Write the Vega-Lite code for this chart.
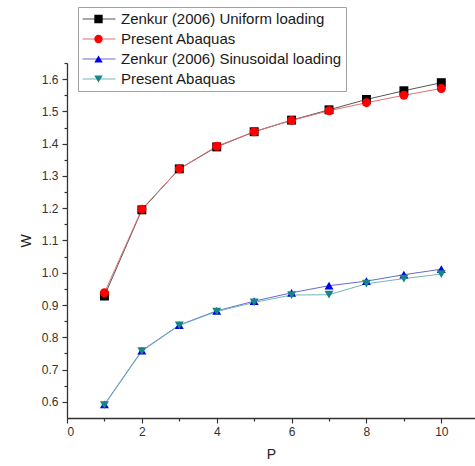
{
  "$schema": "https://vega.github.io/schema/vega-lite/v6.json",
  "autosize": "none",
  "width": 408,
  "height": 355,
  "padding": {"left": 67, "top": 63, "right": 0, "bottom": 48},
  "background": "white",
  "config": {
    "view": {"stroke": null},
    "font": "Liberation Sans",
    "axis": {
      "domainColor": "#333333",
      "domainWidth": 1.3,
      "tickColor": "#333333",
      "tickWidth": 1.2,
      "labelColor": "#333333",
      "labelFont": "Liberation Sans",
      "labelFontSize": 12,
      "titleFont": "Liberation Sans",
      "titleFontSize": 14,
      "titleFontWeight": "normal",
      "titleColor": "#222222",
      "grid": false
    }
  },
  "data": {
    "values": [
      {"P": 1, "W": 0.928, "series": "Zenkur (2006) Uniform loading"},
      {"P": 2, "W": 1.195, "series": "Zenkur (2006) Uniform loading"},
      {"P": 3, "W": 1.322, "series": "Zenkur (2006) Uniform loading"},
      {"P": 4, "W": 1.390, "series": "Zenkur (2006) Uniform loading"},
      {"P": 5, "W": 1.437, "series": "Zenkur (2006) Uniform loading"},
      {"P": 6, "W": 1.473, "series": "Zenkur (2006) Uniform loading"},
      {"P": 7, "W": 1.505, "series": "Zenkur (2006) Uniform loading"},
      {"P": 8, "W": 1.537, "series": "Zenkur (2006) Uniform loading"},
      {"P": 9, "W": 1.564, "series": "Zenkur (2006) Uniform loading"},
      {"P": 10, "W": 1.589, "series": "Zenkur (2006) Uniform loading"},
      {"P": 1, "W": 0.938, "series": "Present Abaquas"},
      {"P": 2, "W": 1.197, "series": "Present Abaquas"},
      {"P": 3, "W": 1.322, "series": "Present Abaquas"},
      {"P": 4, "W": 1.392, "series": "Present Abaquas"},
      {"P": 5, "W": 1.437, "series": "Present Abaquas"},
      {"P": 6, "W": 1.472, "series": "Present Abaquas"},
      {"P": 7, "W": 1.502, "series": "Present Abaquas"},
      {"P": 8, "W": 1.527, "series": "Present Abaquas"},
      {"P": 9, "W": 1.550, "series": "Present Abaquas"},
      {"P": 10, "W": 1.571, "series": "Present Abaquas"},
      {"P": 1, "W": 0.592, "series": "Zenkur (2006) Sinusoidal loading"},
      {"P": 2, "W": 0.759, "series": "Zenkur (2006) Sinusoidal loading"},
      {"P": 3, "W": 0.838, "series": "Zenkur (2006) Sinusoidal loading"},
      {"P": 4, "W": 0.882, "series": "Zenkur (2006) Sinusoidal loading"},
      {"P": 5, "W": 0.912, "series": "Zenkur (2006) Sinusoidal loading"},
      {"P": 6, "W": 0.938, "series": "Zenkur (2006) Sinusoidal loading"},
      {"P": 7, "W": 0.960, "series": "Zenkur (2006) Sinusoidal loading"},
      {"P": 8, "W": 0.974, "series": "Zenkur (2006) Sinusoidal loading"},
      {"P": 9, "W": 0.994, "series": "Zenkur (2006) Sinusoidal loading"},
      {"P": 10, "W": 1.011, "series": "Zenkur (2006) Sinusoidal loading"},
      {"P": 1, "W": 0.590, "series": "Present Abaquas (sinusoidal)"},
      {"P": 2, "W": 0.757, "series": "Present Abaquas (sinusoidal)"},
      {"P": 3, "W": 0.837, "series": "Present Abaquas (sinusoidal)"},
      {"P": 4, "W": 0.880, "series": "Present Abaquas (sinusoidal)"},
      {"P": 5, "W": 0.908, "series": "Present Abaquas (sinusoidal)"},
      {"P": 6, "W": 0.931, "series": "Present Abaquas (sinusoidal)"},
      {"P": 7, "W": 0.932, "series": "Present Abaquas (sinusoidal)"},
      {"P": 8, "W": 0.966, "series": "Present Abaquas (sinusoidal)"},
      {"P": 9, "W": 0.982, "series": "Present Abaquas (sinusoidal)"},
      {"P": 10, "W": 0.996, "series": "Present Abaquas (sinusoidal)"}
    ]
  },
  "resolve": {"scale": {"x": "shared", "y": "shared"}, "axis": {"x": "independent", "y": "independent"}},
  "layer": [
    {
      "mark": {"type": "line", "strokeWidth": 1},
      "encoding": {
        "x": {
          "field": "P", "type": "quantitative",
          "scale": {"domain": [0, 10.9], "nice": false, "zero": false},
          "axis": {"orient": "bottom", "values": [1, 3, 5, 7, 9], "tickSize": 3, "labels": false, "domain": false, "title": null}
        },
        "y": {
          "field": "W", "type": "quantitative",
          "scale": {"domain": [0.55, 1.65], "nice": false, "zero": false},
          "axis": {"orient": "left", "values": [0.65, 0.75, 0.85, 0.95, 1.05, 1.15, 1.25, 1.35, 1.45, 1.55, 1.65], "tickSize": 3, "labels": false, "domain": false, "title": null}
        },
        "stroke": {
          "field": "series", "type": "nominal",
          "sort": ["Zenkur (2006) Uniform loading", "Present Abaquas", "Zenkur (2006) Sinusoidal loading", "Present Abaquas (sinusoidal)"],
          "scale": {
            "range": ["#555555", "#e07070", "#6a6ad0", "#70b8b8"]
          },
          "legend": {
            "orient": "none", "legendX": 15, "legendY": -52,
            "title": null, "symbolType": "stroke", "symbolSize": 1089, "symbolStrokeWidth": 1,
            "labelExpr": "''", "padding": 0, "clipHeight": 16, "rowPadding": 4, "labelOffset": 0
          }
        },
        "detail": {"field": "series"}
      }
    },
    {
      "mark": {"type": "point", "filled": true, "opacity": 1, "size": 80},
      "encoding": {
        "x": {
          "field": "P", "type": "quantitative",
          "axis": {"orient": "bottom", "values": [0, 2, 4, 6, 8, 10], "tickSize": 5, "labelPadding": 3, "title": "P", "titlePadding": 10}
        },
        "y": {
          "field": "W", "type": "quantitative",
          "axis": {"orient": "left", "values": [0.6, 0.7, 0.8, 0.9, 1.0, 1.1, 1.2, 1.3, 1.4, 1.5, 1.6], "format": ".1f", "tickSize": 5, "labelPadding": 4, "title": "W", "titlePadding": 8}
        },
        "color": {
          "field": "series", "type": "nominal",
          "scale": {
            "domain": ["Zenkur (2006) Uniform loading", "Present Abaquas", "Zenkur (2006) Sinusoidal loading", "Present Abaquas (sinusoidal)"],
            "range": ["#000000", "#ff0000", "#0000ee", "#168585"]
          },
          "legend": {
            "orient": "none", "legendX": 11, "legendY": -56,
            "title": null, "strokeColor": "#a0a0a0", "padding": 4,
            "labelFontSize": 15, "labelFont": "Liberation Sans", "labelColor": "#1a1a1a", "labelLimit": 400,
            "labelExpr": "replace(datum.label, ' (sinusoidal)', '')",
            "symbolSize": 70, "symbolOffset": 9, "labelOffset": 15, "clipHeight": 16, "rowPadding": 4
          }
        },
        "shape": {
          "field": "series", "type": "nominal",
          "scale": {
            "domain": ["Zenkur (2006) Uniform loading", "Present Abaquas", "Zenkur (2006) Sinusoidal loading", "Present Abaquas (sinusoidal)"],
            "range": ["square", "circle", "triangle-up", "triangle-down"]
          },
          "legend": {
            "orient": "none", "legendX": 11, "legendY": -56,
            "title": null, "strokeColor": "#a0a0a0", "padding": 4,
            "labelFontSize": 15, "labelFont": "Liberation Sans", "labelColor": "#1a1a1a", "labelLimit": 400,
            "labelExpr": "replace(datum.label, ' (sinusoidal)', '')",
            "symbolSize": 70, "symbolOffset": 9, "labelOffset": 15, "clipHeight": 16, "rowPadding": 4
          }
        }
      }
    }
  ]
}
